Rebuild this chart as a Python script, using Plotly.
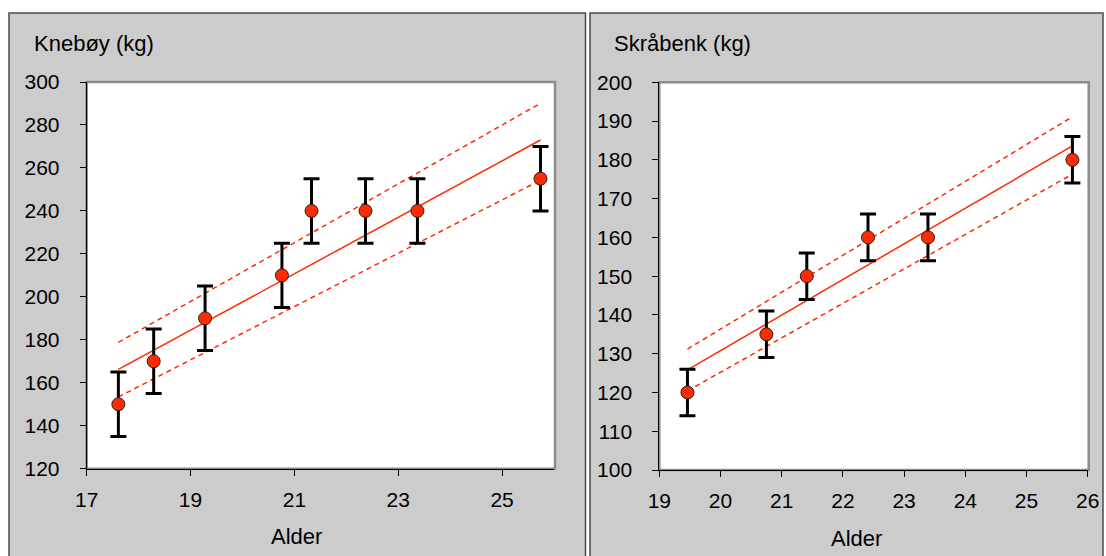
import plotly.graph_objects as go

# Knebøy (squat) by age
kne_age = [17.61, 18.29, 19.28, 20.76, 21.33, 22.37, 23.37, 25.74]
kne_kg = [150, 170, 190, 210, 240, 240, 240, 255]
kne_err = [15, 15, 15, 15, 15, 15, 15, 15]
kne_fit_age = [17.61, 25.74]
kne_fit = [166.2, 273.0]
kne_upper = [178.8, 290.1]
kne_lower = [153.4, 254.3]

# Skråbenk (incline bench) by age
skr_age = [19.46, 20.75, 21.41, 22.41, 23.39, 25.75]
skr_kg = [120, 135, 150, 160, 160, 180]
skr_err = [6, 6, 6, 6, 6, 6]
skr_fit_age = [19.46, 25.75]
skr_fit = [125.8, 183.6]
skr_upper = [131.2, 191.1]
skr_lower = [120.4, 176.3]

W, H = 1106, 556
RED = "#ff2a00"
FONT = "Liberation Sans, Arial, sans-serif"


def px(x):
    return x / W


def py(y):
    return 1 - y / H


fig = go.Figure()


def add_panel(xa, ya, age, kg, err, fit_age, fit, upper, lower):
    for band in (upper, lower):
        fig.add_trace(go.Scatter(
            x=fit_age, y=band, mode="lines", xaxis=xa, yaxis=ya,
            line=dict(color=RED, width=1.5, dash="5px,4px"), hoverinfo="skip"))
    fig.add_trace(go.Scatter(
        x=fit_age, y=fit, mode="lines", xaxis=xa, yaxis=ya,
        line=dict(color=RED, width=1.5), hoverinfo="skip"))
    fig.add_trace(go.Scatter(
        x=age, y=kg, mode="markers", xaxis=xa, yaxis=ya,
        error_y=dict(type="data", array=err, visible=True, color="black",
                     thickness=3, width=8),
        marker=dict(color=RED, size=13, line=dict(color="#222222", width=1))))


add_panel("x", "y", kne_age, kne_kg, kne_err, kne_fit_age, kne_fit, kne_upper, kne_lower)
add_panel("x2", "y2", skr_age, skr_kg, skr_err, skr_fit_age, skr_fit, skr_upper, skr_lower)

# plot-area pixel boxes (left, top, right, bottom)
left_box = (86.7, 82.0, 554.0, 468.7)
right_box = (659.3, 82.3, 1087.7, 470.0)

axis_common = dict(
    showgrid=False, zeroline=False, showline=True, linecolor="black", linewidth=1,
    ticks="outside", ticklen=6, tickwidth=1, tickcolor="black", automargin=False,
    tickfont=dict(family=FONT, size=21, color="black"),
)
x_common = dict(ticklabelstandoff=6, **axis_common)
y_common = dict(ticklabelstandoff=16, **axis_common)

fig.update_layout(
    width=W, height=H,
    autosize=False,
    margin=dict(l=0, r=0, t=0, b=0, pad=0, autoexpand=False),
    paper_bgcolor="white",
    plot_bgcolor="rgba(0,0,0,0)",
    showlegend=False,
    xaxis=dict(domain=[px(left_box[0]), px(left_box[2])], range=[17, 26],
               tickvals=[17, 19, 21, 23, 25], anchor="y", **x_common),
    yaxis=dict(domain=[py(left_box[3]), py(left_box[1])], range=[120, 300],
               dtick=20, anchor="x", **y_common),
    xaxis2=dict(domain=[px(right_box[0]), px(right_box[2])], range=[19, 26],
                dtick=1, anchor="y2", **x_common),
    yaxis2=dict(domain=[py(right_box[3]), py(right_box[1])], range=[100, 200],
                dtick=10, anchor="x2", **y_common),
)

shapes = []
# grey chart panels
for x0, x1 in ((9, 585.5), (590, 1103)):
    shapes.append(dict(type="rect", xref="paper", yref="paper", layer="below",
                       x0=px(x0), x1=px(x1), y0=py(600), y1=py(13),
                       fillcolor="#cccccc", line=dict(color="#4a4a4a", width=1.5)))
# white plot areas with grey frame
for b in (left_box, right_box):
    shapes.append(dict(type="rect", xref="paper", yref="paper", layer="below",
                       x0=px(b[0]), x1=px(b[2] + 1), y0=py(b[3]), y1=py(b[1]),
                       fillcolor="white", line=dict(color="#8c8c8c", width=2.5)))
fig.update_layout(shapes=shapes)

ann_font = dict(family=FONT, size=22, color="black")
fig.add_annotation(text="Knebøy (kg)", xref="paper", yref="paper", x=px(32), y=py(44),
                   xanchor="left", yanchor="middle", showarrow=False, font=ann_font)
fig.add_annotation(text="Skråbenk (kg)", xref="paper", yref="paper", x=px(612), y=py(44),
                   xanchor="left", yanchor="middle", showarrow=False, font=ann_font)
fig.add_annotation(text="Alder", xref="paper", yref="paper", x=px(296), y=py(536),
                   xanchor="center", yanchor="middle", showarrow=False, font=ann_font)
fig.add_annotation(text="Alder", xref="paper", yref="paper", x=px(856), y=py(538),
                   xanchor="center", yanchor="middle", showarrow=False, font=ann_font)

fig.write_html("out.html")
